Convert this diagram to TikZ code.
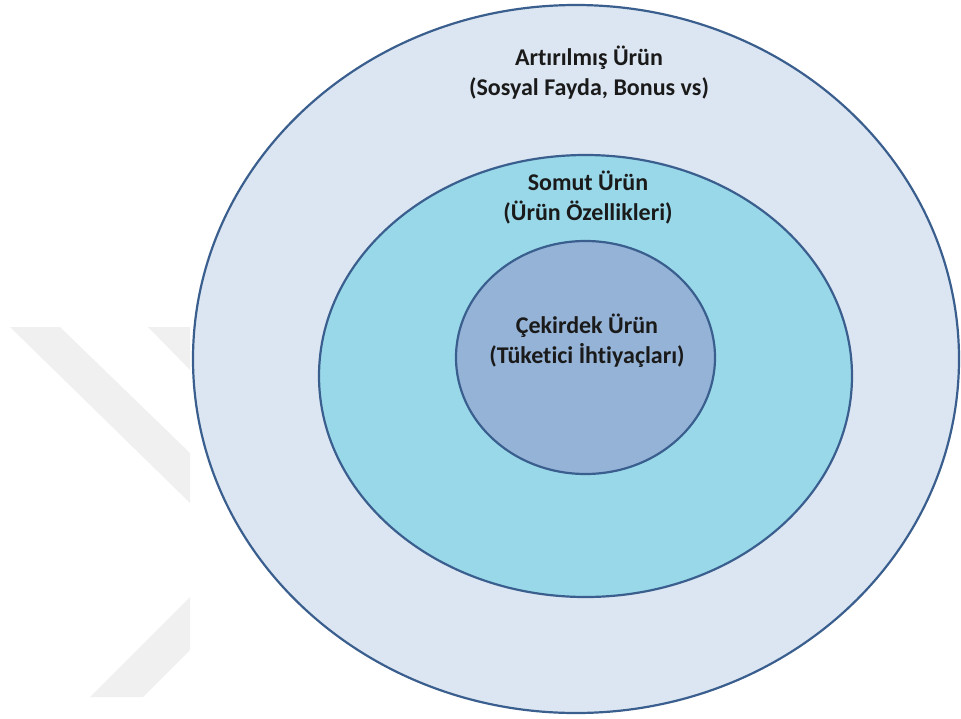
\documentclass[tikz,border=0pt]{standalone}
\usepackage{fontspec}
\setmainfont[Ligatures=NoCommon]{Carlito}
\usetikzlibrary{shapes.geometric}

\definecolor{ringline}{HTML}{3A5F8E}
\definecolor{outerfill}{HTML}{DCE6F2}
\definecolor{midfill}{HTML}{99D8E9}
\definecolor{corefill}{HTML}{95B3D7}
\definecolor{markgray}{HTML}{F0F0F0}
\definecolor{labeltext}{HTML}{1A1A1A}

\tikzset{
  ring/.style={ellipse, draw=ringline, line width=2.2pt, inner sep=0pt, outer sep=0pt},
  ringlabel/.style={align=center, text=labeltext, font=\bfseries\fontsize{24}{30}\selectfont, inner sep=0pt},
  watermark/.style={fill=markgray, draw=none}
}

\begin{document}
\begin{tikzpicture}[x=1pt,y=-1pt]
  \useasboundingbox (0,0) rectangle (961,718);

  % faint background mark on the left
  \fill[watermark] (10,327) -- (60,327) -- (190,453) -- (190,503) -- cycle;
  \fill[watermark] (148,327) -- (190,327) -- (190,370) -- cycle;
  \fill[watermark] (190,597) -- (190,650) -- (143,697) -- (90,697) -- cycle;

  % nested product levels
  \node[ring, fill=outerfill, minimum width=766pt, minimum height=708pt] (outer) at (576,359) {};
  \node[ring, fill=midfill, minimum width=533pt, minimum height=442pt] (middle) at (585.5,376) {};
  \node[ring, fill=corefill, minimum width=259pt, minimum height=233pt] (core) at (585.5,357.5) {};

  % level labels
  \node[ringlabel] (outerlabel) at (589,73) {Artırılmış Ürün\\(Sosyal Fayda, Bonus vs)};
  \node[ringlabel] (middlelabel) at (588,198) {Somut Ürün\\(Ürün Özellikleri)};
  \node[ringlabel] (corelabel) at (587,341) {Çekirdek Ürün\\(Tüketici İhtiyaçları)};
\end{tikzpicture}
\end{document}
